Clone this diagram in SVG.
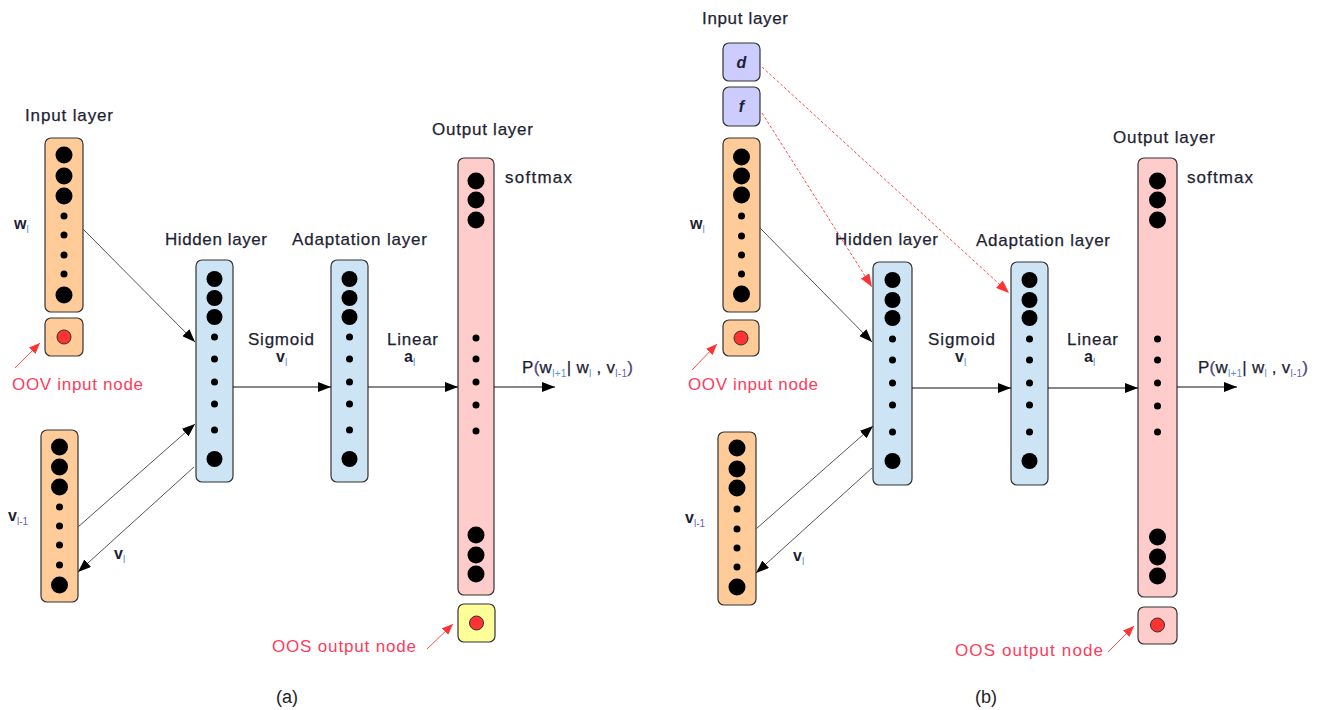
<svg xmlns="http://www.w3.org/2000/svg" width="1318" height="710" viewBox="0 0 1318 710">
  <style>
    .lbl { font-family: "Liberation Sans", Arial, sans-serif; font-size: 17px; fill: #1f1f33; stroke: #1f1f33; stroke-width: 0.25; }
    .var { font-family: "Liberation Sans", Arial, sans-serif; font-size: 16px; font-weight: bold; fill: #1f1f33; }
    .sub { font-size: 10px; font-weight: normal; fill: #5b8fd6; stroke: none; }
    .subp { font-size: 10px; font-weight: normal; fill: #6a5fb0; stroke: none; }
    .note { font-family: "Liberation Sans", Arial, sans-serif; font-size: 17px; fill: #ff3b5c; }
    .cap { font-family: "Liberation Sans", Arial, sans-serif; font-size: 18px; fill: #222; }
    .col { stroke: #333; stroke-width: 1.2; }
    .in { fill: #ffcc99; }
    .hid { fill: #cce4f4; }
    .out { fill: #ffcccc; }
    .oos { fill: #ffff99; }
    .feat { fill: #ccccff; }
    .big { fill: #000; }
    .red { fill: #ff3333; stroke: #333; stroke-width: 1; }
    .edge { stroke: #555; stroke-width: 1; fill: none; }
    .flow { stroke: #111; stroke-width: 1.2; fill: none; }
    .dash { stroke: #ff4d4d; stroke-width: 1; stroke-dasharray: 3 2; fill: none; }
    .rline { stroke: #ff4d4d; stroke-width: 1; fill: none; }
  </style>
  <defs>
    <marker id="ah" markerUnits="userSpaceOnUse" markerWidth="13" markerHeight="10" refX="13" refY="5" orient="auto">
      <path d="M0,0 L13,5 L0,10 z" fill="#000"/>
    </marker>
    <marker id="ahr" markerUnits="userSpaceOnUse" markerWidth="13" markerHeight="10" refX="13" refY="5" orient="auto">
      <path d="M0,0 L13,5 L0,10 z" fill="#ff3333"/>
    </marker>
    <marker id="ahs" markerUnits="userSpaceOnUse" markerWidth="11" markerHeight="9" refX="11" refY="4.5" orient="auto">
      <path d="M0,0 L11,4.5 L0,9 z" fill="#ff3333"/>
    </marker>
  </defs>

  <rect width="1318" height="710" fill="#fff"/>

  <!-- ===== (a) ===== -->
  <g id="a-input-w">
    <text class="lbl" x="25" y="121" textLength="88" lengthAdjust="spacing">Input layer</text>
    <rect class="col in" x="45" y="138" width="38" height="174" rx="6"/>
    <circle class="big" cx="64" cy="155" r="8.5"/>
    <circle class="big" cx="64" cy="176" r="8.5"/>
    <circle class="big" cx="64" cy="196" r="8.5"/>
    <circle class="big" cx="64" cy="216" r="3.5"/>
    <circle class="big" cx="64" cy="235" r="3.5"/>
    <circle class="big" cx="64" cy="255" r="3.5"/>
    <circle class="big" cx="64" cy="274" r="3.5"/>
    <circle class="big" cx="64" cy="295" r="8.5"/>
    <text class="var" x="14" y="229">w<tspan class="sub" dy="4">l</tspan></text>
  </g>
  <g id="a-oov">
    <rect class="col in" x="45" y="318" width="38" height="38" rx="6"/>
    <circle class="red" cx="64" cy="337" r="7"/>
    <text class="note" x="12" y="390" textLength="131" lengthAdjust="spacing">OOV input node</text>
  </g>
  <g id="a-input-v">
    <rect class="col in" x="41" y="430" width="37" height="172" rx="6"/>
    <circle class="big" cx="59.5" cy="447" r="8.5"/>
    <circle class="big" cx="59.5" cy="467" r="8.5"/>
    <circle class="big" cx="59.5" cy="487" r="8.5"/>
    <circle class="big" cx="59.5" cy="507" r="3.5"/>
    <circle class="big" cx="59.5" cy="526" r="3.5"/>
    <circle class="big" cx="59.5" cy="545" r="3.5"/>
    <circle class="big" cx="59.5" cy="565" r="3.5"/>
    <circle class="big" cx="59.5" cy="585" r="8.5"/>
    <text class="var" x="8" y="521">v<tspan class="subp" dy="4">l-1</tspan></text>
    <text class="var" x="114" y="559">v<tspan class="sub" dy="4">l</tspan></text>
  </g>
  <g id="a-hidden">
    <text class="lbl" x="165" y="245" textLength="102" lengthAdjust="spacing">Hidden layer</text>
    <rect class="col hid" x="196" y="260" width="37" height="222" rx="6"/>
    <circle class="big" cx="214.5" cy="279" r="8"/>
    <circle class="big" cx="214.5" cy="298" r="8"/>
    <circle class="big" cx="214.5" cy="317" r="8"/>
    <circle class="big" cx="214.5" cy="337" r="3.5"/>
    <circle class="big" cx="214.5" cy="359" r="3.5"/>
    <circle class="big" cx="214.5" cy="382" r="3.5"/>
    <circle class="big" cx="214.5" cy="404" r="3.5"/>
    <circle class="big" cx="214.5" cy="430" r="3.5"/>
    <circle class="big" cx="214.5" cy="459" r="8"/>
    <text class="lbl" x="248" y="345" textLength="66" lengthAdjust="spacing">Sigmoid</text>
    <text class="var" x="276" y="362">v<tspan class="sub" dy="4">l</tspan></text>
  </g>
  <g id="a-adapt">
    <text class="lbl" x="292" y="245" textLength="135" lengthAdjust="spacing">Adaptation layer</text>
    <rect class="col hid" x="331" y="260" width="37" height="222" rx="6"/>
    <circle class="big" cx="349.5" cy="279" r="8"/>
    <circle class="big" cx="349.5" cy="298" r="8"/>
    <circle class="big" cx="349.5" cy="317" r="8"/>
    <circle class="big" cx="349.5" cy="337" r="3.5"/>
    <circle class="big" cx="349.5" cy="359" r="3.5"/>
    <circle class="big" cx="349.5" cy="382" r="3.5"/>
    <circle class="big" cx="349.5" cy="404" r="3.5"/>
    <circle class="big" cx="349.5" cy="430" r="3.5"/>
    <circle class="big" cx="349.5" cy="459" r="8"/>
    <text class="lbl" x="387" y="345" textLength="51" lengthAdjust="spacing">Linear</text>
    <text class="var" x="404" y="362">a<tspan class="sub" dy="4">l</tspan></text>
  </g>
  <g id="a-output">
    <text class="lbl" x="432" y="135" textLength="101" lengthAdjust="spacing">Output layer</text>
    <rect class="col out" x="458" y="158" width="36" height="437" rx="6"/>
    <circle class="big" cx="476" cy="181" r="8.5"/>
    <circle class="big" cx="476" cy="200" r="8.5"/>
    <circle class="big" cx="476" cy="220" r="8.5"/>
    <circle class="big" cx="476" cy="338" r="3.5"/>
    <circle class="big" cx="476" cy="359" r="3.5"/>
    <circle class="big" cx="476" cy="382" r="3.5"/>
    <circle class="big" cx="476" cy="405" r="3.5"/>
    <circle class="big" cx="476" cy="431" r="3.5"/>
    <circle class="big" cx="476" cy="535" r="8.5"/>
    <circle class="big" cx="476" cy="555" r="8.5"/>
    <circle class="big" cx="476" cy="574" r="8.5"/>
    <text class="lbl" x="505" y="183" textLength="67" lengthAdjust="spacing">softmax</text>
    <text class="lbl" x="522" y="373" textLength="111" lengthAdjust="spacing">P<tspan fill="#5a4a9a">(</tspan>w<tspan class="sub" dy="4">l+1</tspan><tspan dy="-4">| w</tspan><tspan class="sub" dy="4">l</tspan><tspan dy="-4"> , v</tspan><tspan class="subp" dy="4">l-1</tspan><tspan fill="#5a4a9a" dy="-4">)</tspan></text>
  </g>
  <g id="a-oos">
    <rect class="col oos" x="458" y="604" width="37" height="38" rx="6"/>
    <circle class="red" cx="476.5" cy="623" r="7"/>
    <text class="note" x="272" y="652" textLength="144" lengthAdjust="spacing">OOS output node</text>
  </g>
  <text id="cap-a" class="cap" x="287" y="703" text-anchor="middle">(a)</text>

  <!-- ===== (b) ===== -->
  <g id="b-feat-d">
    <text class="lbl" x="702" y="24" textLength="86" lengthAdjust="spacing">Input layer</text>
    <rect class="col feat" x="723" y="43" width="37" height="38" rx="6"/>
    <text class="var" x="741.5" y="68" text-anchor="middle" font-style="italic">d</text>
  </g>
  <g id="b-feat-f">
    <rect class="col feat" x="723" y="87" width="37" height="39" rx="6"/>
    <text class="var" x="741.5" y="112" text-anchor="middle" font-style="italic">f</text>
  </g>
  <g id="b-input-w">
    <rect class="col in" x="723" y="138" width="37" height="174" rx="6"/>
    <circle class="big" cx="741.5" cy="157" r="8.5"/>
    <circle class="big" cx="741.5" cy="176" r="8.5"/>
    <circle class="big" cx="741.5" cy="195" r="8.5"/>
    <circle class="big" cx="741.5" cy="216" r="3.5"/>
    <circle class="big" cx="741.5" cy="236" r="3.5"/>
    <circle class="big" cx="741.5" cy="255" r="3.5"/>
    <circle class="big" cx="741.5" cy="274" r="3.5"/>
    <circle class="big" cx="741.5" cy="294" r="8.5"/>
    <text class="var" x="690" y="229">w<tspan class="sub" dy="4">l</tspan></text>
  </g>
  <g id="b-oov">
    <rect class="col in" x="723" y="320" width="36" height="36" rx="6"/>
    <circle class="red" cx="741" cy="338" r="7"/>
    <text class="note" x="688" y="390" textLength="130" lengthAdjust="spacing">OOV input node</text>
  </g>
  <g id="b-input-v">
    <rect class="col in" x="718" y="432" width="38" height="173" rx="6"/>
    <circle class="big" cx="737" cy="448" r="8.5"/>
    <circle class="big" cx="737" cy="469" r="8.5"/>
    <circle class="big" cx="737" cy="488" r="8.5"/>
    <circle class="big" cx="737" cy="509" r="3.5"/>
    <circle class="big" cx="737" cy="529" r="3.5"/>
    <circle class="big" cx="737" cy="548" r="3.5"/>
    <circle class="big" cx="737" cy="567" r="3.5"/>
    <circle class="big" cx="737" cy="587" r="8.5"/>
    <text class="var" x="685" y="523">v<tspan class="subp" dy="4">l-1</tspan></text>
    <text class="var" x="793" y="561">v<tspan class="sub" dy="4">l</tspan></text>
  </g>
  <g id="b-hidden">
    <text class="lbl" x="835" y="245" textLength="103" lengthAdjust="spacing">Hidden layer</text>
    <rect class="col hid" x="873" y="262" width="39" height="223" rx="6"/>
    <circle class="big" cx="892.5" cy="280" r="8"/>
    <circle class="big" cx="892.5" cy="300" r="8"/>
    <circle class="big" cx="892.5" cy="318" r="8"/>
    <circle class="big" cx="892.5" cy="339" r="3.5"/>
    <circle class="big" cx="892.5" cy="360" r="3.5"/>
    <circle class="big" cx="892.5" cy="383" r="3.5"/>
    <circle class="big" cx="892.5" cy="405" r="3.5"/>
    <circle class="big" cx="892.5" cy="432" r="3.5"/>
    <circle class="big" cx="892.5" cy="461" r="8"/>
    <text class="lbl" x="928" y="345" textLength="67" lengthAdjust="spacing">Sigmoid</text>
    <text class="var" x="955" y="362">v<tspan class="sub" dy="4">l</tspan></text>
  </g>
  <g id="b-adapt">
    <text class="lbl" x="976" y="246" textLength="134" lengthAdjust="spacing">Adaptation layer</text>
    <rect class="col hid" x="1011" y="262" width="37" height="223" rx="6"/>
    <circle class="big" cx="1029.5" cy="280" r="8"/>
    <circle class="big" cx="1029.5" cy="300" r="8"/>
    <circle class="big" cx="1029.5" cy="318" r="8"/>
    <circle class="big" cx="1029.5" cy="339" r="3.5"/>
    <circle class="big" cx="1029.5" cy="360" r="3.5"/>
    <circle class="big" cx="1029.5" cy="383" r="3.5"/>
    <circle class="big" cx="1029.5" cy="405" r="3.5"/>
    <circle class="big" cx="1029.5" cy="432" r="3.5"/>
    <circle class="big" cx="1029.5" cy="461" r="8"/>
    <text class="lbl" x="1067" y="345" textLength="51" lengthAdjust="spacing">Linear</text>
    <text class="var" x="1084" y="362">a<tspan class="sub" dy="4">l</tspan></text>
  </g>
  <g id="b-output">
    <text class="lbl" x="1113" y="143" textLength="102" lengthAdjust="spacing">Output layer</text>
    <rect class="col out" x="1138" y="158" width="39" height="439" rx="6"/>
    <circle class="big" cx="1157.5" cy="181" r="8.5"/>
    <circle class="big" cx="1157.5" cy="200" r="8.5"/>
    <circle class="big" cx="1157.5" cy="220" r="8.5"/>
    <circle class="big" cx="1157.5" cy="339" r="3.5"/>
    <circle class="big" cx="1157.5" cy="360" r="3.5"/>
    <circle class="big" cx="1157.5" cy="383" r="3.5"/>
    <circle class="big" cx="1157.5" cy="406" r="3.5"/>
    <circle class="big" cx="1157.5" cy="432" r="3.5"/>
    <circle class="big" cx="1157.5" cy="537" r="8.5"/>
    <circle class="big" cx="1157.5" cy="557" r="8.5"/>
    <circle class="big" cx="1157.5" cy="576" r="8.5"/>
    <text class="lbl" x="1187" y="183" textLength="66" lengthAdjust="spacing">softmax</text>
    <text class="lbl" x="1198" y="373" textLength="110" lengthAdjust="spacing">P<tspan fill="#5a4a9a">(</tspan>w<tspan class="sub" dy="4">l+1</tspan><tspan dy="-4">| w</tspan><tspan class="sub" dy="4">l</tspan><tspan dy="-4"> , v</tspan><tspan class="subp" dy="4">l-1</tspan><tspan fill="#5a4a9a" dy="-4">)</tspan></text>
  </g>
  <g id="b-oos">
    <rect class="col out" x="1138" y="607" width="39" height="37" rx="6"/>
    <circle class="red" cx="1157.5" cy="625" r="7"/>
    <text class="note" x="955" y="656" textLength="148" lengthAdjust="spacing">OOS output node</text>
  </g>
  <text id="cap-b" class="cap" x="986" y="703" text-anchor="middle">(b)</text>

  <!-- connectors -->
  <g id="connectors">
    <!-- (a) -->
    <line class="edge" x1="83" y1="229" x2="195" y2="342" marker-end="url(#ah)"/>
    <line class="edge" x1="78" y1="527" x2="195" y2="424" marker-end="url(#ah)"/>
    <line class="edge" x1="194" y1="467" x2="78" y2="572" marker-end="url(#ah)"/>
    <line class="flow" x1="233" y1="387" x2="331" y2="387" marker-end="url(#ah)"/>
    <line class="flow" x1="368" y1="387" x2="458" y2="387" marker-end="url(#ah)"/>
    <line class="flow" x1="494" y1="387" x2="555" y2="387" marker-end="url(#ah)"/>
    <line class="rline" x1="15" y1="368" x2="40" y2="343" marker-end="url(#ahs)"/>
    <line class="rline" x1="427" y1="649" x2="453" y2="624" marker-end="url(#ahs)"/>
    <!-- (b) -->
    <line class="dash" x1="762" y1="113" x2="872" y2="287" marker-end="url(#ahr)"/>
    <line class="dash" x1="762" y1="67" x2="1009" y2="293" marker-end="url(#ahr)"/>
    <line class="edge" x1="760" y1="228" x2="872" y2="342" marker-end="url(#ah)"/>
    <line class="edge" x1="756" y1="529" x2="873" y2="426" marker-end="url(#ah)"/>
    <line class="edge" x1="872" y1="468" x2="756" y2="573" marker-end="url(#ah)"/>
    <line class="flow" x1="912" y1="388" x2="1011" y2="388" marker-end="url(#ah)"/>
    <line class="flow" x1="1048" y1="388" x2="1138" y2="388" marker-end="url(#ah)"/>
    <line class="flow" x1="1177" y1="387" x2="1237" y2="387" marker-end="url(#ah)"/>
    <line class="rline" x1="692" y1="370" x2="717" y2="344" marker-end="url(#ahs)"/>
    <line class="rline" x1="1108" y1="652" x2="1134" y2="626" marker-end="url(#ahs)"/>
  </g>
</svg>
